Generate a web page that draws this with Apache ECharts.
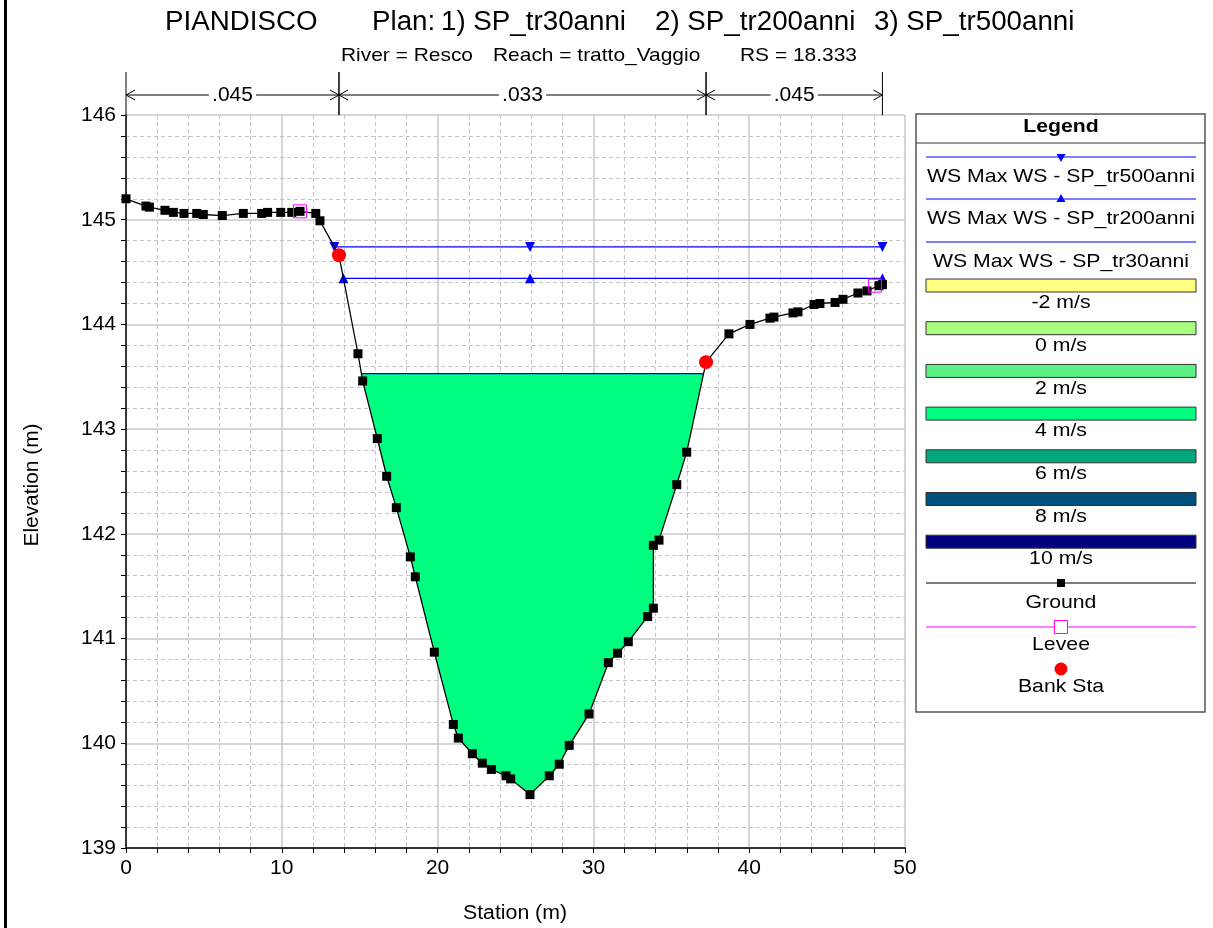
<!DOCTYPE html>
<html><head><meta charset="utf-8">
<script src="https://cdn.jsdelivr.net/npm/echarts@6/dist/echarts.min.js"></script>
<style>html,body{margin:0;padding:0;background:#fff}#c{width:1213px;height:928px}</style>
</head><body><div id="c"></div>
<script>
// ---------------- DATA ----------------
const groundStation = [
  0, 1.28, 1.50, 2.50, 3.04, 3.72, 4.54, 4.96, 6.18, 7.53,
  8.71, 9.09, 9.93, 10.64, 11.17, 12.18, 12.45, 13.67, 14.89, 15.19,
  16.13, 16.73, 17.35, 18.25, 18.57, 19.79, 21.01, 21.33, 22.23, 22.87,
  23.45, 24.39, 24.69, 25.93, 27.17, 27.81, 28.45, 29.72, 30.96, 31.55,
  32.24, 33.48, 33.85, 33.85, 34.21, 35.35, 35.99, 37.23, 38.70, 40.05,
  41.33, 41.59, 42.81, 43.13, 44.16, 44.54, 45.51, 46.02, 46.98, 47.56,
  48.33, 48.55
];
const groundElev = [
  145.20, 145.13, 145.12, 145.09, 145.07, 145.06, 145.06, 145.05, 145.04, 145.06,
  145.06, 145.07, 145.07, 145.07, 145.08, 145.06, 144.99, 144.66, 143.72, 143.46,
  142.91, 142.55, 142.25, 141.78, 141.59, 140.87, 140.18, 140.05, 139.90, 139.81,
  139.75, 139.69, 139.66, 139.51, 139.69, 139.80, 139.98, 140.28, 140.77, 140.86,
  140.97, 141.21, 141.29, 141.89, 141.94, 142.47, 142.78, 143.64, 143.91, 144.00,
  144.06, 144.07, 144.11, 144.12, 144.19, 144.20, 144.21, 144.24, 144.30, 144.32,
  144.37, 144.38
];
const bankStation = [13.67, 37.23];
const bankElev = [144.66, 143.64];
const leveeStation = [11.17, 48.07];
const leveeElev = [145.08, 144.37];
const wsProfiles = ['SP_tr500anni', 'SP_tr200anni', 'SP_tr30anni'];
const wsElev = [144.74, 144.44, 143.53];
const nBreaks = [0, 13.67, 37.23, 48.55];
const nValues = ['.045', '.033', '.045'];
const velLabels = ['-2 m/s', '0 m/s', '2 m/s', '4 m/s', '6 m/s', '8 m/s', '10 m/s'];
const xTicks = [0, 50, 10];
const yTicks = [139, 146, 1];
const titleParts = ['PIANDISCO', 'Plan:', '1) SP_tr30anni', '2) SP_tr200anni', '3) SP_tr500anni'];
const subtitleParts = ['River = Resco', 'Reach = tratto_Vaggio', 'RS = 18.333'];

// ---------------- STYLE ----------------
const FONT = '"Liberation Sans", Arial, sans-serif';
const velColors = ['#ffff80', '#aaff80', '#5af082', '#00ff80', '#00a87c', '#00507c', '#000080'];
const WS_COLOR = '#0000ff';

const mctx = document.createElement('canvas').getContext('2d');
function tw(text, font) { mctx.font = font; return mctx.measureText(text).width; }
function fitText(text, x, y, size, targetW, align, opts) {
  const font = (opts && opts.bold ? 'bold ' : '') + size + 'px ' + FONT;
  const s = targetW ? targetW / tw(text, font) : 1;
  const el = {
    type: 'text', x: x, y: y, scaleX: s, z: 100,
    style: { text: text, font: font, fill: '#000', textAlign: align || 'center', textVerticalAlign: 'middle' }
  };
  if (opts && opts.rotation) el.rotation = opts.rotation;
  return el;
}

// ---------------- GEOMETRY HELPERS ----------------
function thalweg() {
  let k = 0;
  for (let i = 1; i < groundElev.length; i++) if (groundElev[i] < groundElev[k]) k = i;
  return k;
}
function wsExtent(elev) {
  const n = groundStation.length, k = thalweg();
  let i = k; while (i > 0 && groundElev[i - 1] < elev) i--;
  let xl;
  if (i === 0) xl = groundStation[0];
  else {
    const xa = groundStation[i - 1], ya = groundElev[i - 1], xb = groundStation[i], yb = groundElev[i];
    xl = xa + (ya - elev) / (ya - yb) * (xb - xa);
  }
  let j = k; while (j < n - 1 && groundElev[j + 1] < elev) j++;
  let xr;
  if (j === n - 1) xr = groundStation[n - 1];
  else {
    const xa = groundStation[j], ya = groundElev[j], xb = groundStation[j + 1], yb = groundElev[j + 1];
    xr = xa + (elev - ya) / (yb - ya) * (xb - xa);
  }
  return { xl: xl, xr: xr, il: i, ir: j };
}

const groundData = groundStation.map((x, i) => [x, groundElev[i]]);
const wsSeries = wsProfiles.map((p, idx) => {
  const e = wsElev[idx], ext = wsExtent(e);
  const withMarks = idx < 2;
  const data = withMarks
    ? [[ext.xl, e], [groundStation[thalweg()], e], [ext.xr, e]]
    : [[ext.xl, e], [ext.xr, e]];
  return {
    type: 'line', name: 'WS Max WS - ' + p, data: data, z: 5,
    lineStyle: { color: WS_COLOR, width: 1.2 },
    itemStyle: { color: WS_COLOR, borderWidth: 0 },
    showSymbol: withMarks, symbol: 'triangle', symbolSize: 10,
    symbolRotate: idx === 0 ? 180 : 0
  };
});

// ---------------- CHART ----------------
const chart = echarts.init(document.getElementById('c'), null, { renderer: 'canvas' });
const G = { left: 126, top: 115, width: 779, height: 733 };

const axisCommon = {
  type: 'value',
  axisLine: { show: true, onZero: false, lineStyle: { color: '#000', width: 1.5 } },
  axisTick: { show: true, length: 5, lineStyle: { color: '#000', width: 1 } },
  minorTick: { show: true, splitNumber: 5, length: 5, lineStyle: { color: '#000', width: 1 } },
  splitLine: { show: true, lineStyle: { color: '#c8c8c8', width: 1.5 } },
  minorSplitLine: { show: true, lineStyle: { color: '#c4c4c4', width: 1, type: [4, 3] } },
  axisLabel: { color: '#000', fontSize: 21, fontFamily: FONT, margin: 10 }
};

// legend graphic
const LX0 = 926, LX1 = 1196, LCX = 1061;
const LFS = 19;
const legScale = 268 / tw('WS Max WS - SP_tr500anni', LFS + 'px ' + FONT);
function legText(t, y) {
  return { type: 'text', x: LCX, y: y, scaleX: legScale, z: 100,
    style: { text: t, font: LFS + 'px ' + FONT, fill: '#000', textAlign: 'center', textVerticalAlign: 'middle' } };
}
function hline(x0, x1, y, color, w) {
  return { type: 'line', z: 100, shape: { x1: x0, y1: y, x2: x1, y2: y }, style: { stroke: color, lineWidth: w || 1 } };
}
const legend = [];
legend.push({ type: 'rect', z: 99, shape: { x: 916, y: 114, width: 289, height: 598 }, style: { fill: '#fff', stroke: '#555', lineWidth: 1.5 } });
legend.push(hline(916, 1205, 143, '#333', 1));
legend.push({ type: 'text', x: LCX, y: 127, scaleX: legScale, z: 100,
  style: { text: 'Legend', font: 'bold ' + LFS + 'px ' + FONT, fill: '#000', textAlign: 'center', textVerticalAlign: 'middle' } });
const wsLineY = [157, 199, 242], wsTextY = [177, 219, 262];
wsProfiles.forEach((p, i) => {
  legend.push(hline(LX0, LX1, wsLineY[i], WS_COLOR, 1.2));
  if (i === 0) legend.push({ type: 'polygon', z: 101, shape: { points: [[LCX - 4.5, wsLineY[i] - 3], [LCX + 4.5, wsLineY[i] - 3], [LCX, wsLineY[i] + 5]] }, style: { fill: WS_COLOR } });
  if (i === 1) legend.push({ type: 'polygon', z: 101, shape: { points: [[LCX - 4.5, wsLineY[i] + 3], [LCX + 4.5, wsLineY[i] + 3], [LCX, wsLineY[i] - 5]] }, style: { fill: WS_COLOR } });
  legend.push(legText('WS Max WS - ' + p, wsTextY[i]));
});
velLabels.forEach((t, i) => {
  const top = 279 + i * 42.7;
  legend.push({ type: 'rect', z: 100, shape: { x: LX0, y: top, width: LX1 - LX0, height: 13 }, style: { fill: velColors[i], stroke: '#333', lineWidth: 1 } });
  legend.push(legText(t, top + 24));
});
legend.push(hline(LX0, LX1, 583, '#000', 1.2));
legend.push({ type: 'rect', z: 101, shape: { x: LCX - 4, y: 579, width: 8, height: 8 }, style: { fill: '#000' } });
legend.push(legText('Ground', 603));
legend.push(hline(LX0, LX1, 627, '#ff00ff', 1.2));
legend.push({ type: 'rect', z: 101, shape: { x: LCX - 6.5, y: 620.5, width: 13, height: 13 }, style: { fill: '#fff', stroke: '#ff00ff', lineWidth: 1 } });
legend.push(legText('Levee', 645));
legend.push({ type: 'circle', z: 101, shape: { cx: LCX, cy: 669, r: 6.5 }, style: { fill: '#ff0000' } });
legend.push(legText('Bank Sta', 687));

// titles
const titleX = [165, 372, 441, 655, 874];
const TFS = 27;
const titleScale = 185 / tw(titleParts[2], TFS + 'px ' + FONT);
const titles = titleParts.map((t, i) => {
  const e = fitText(t, titleX[i], 23, TFS, null, 'left'); e.scaleX = titleScale; return e;
});
const subX = [341, 493, 740];
const SFS = 19;
const subScale = 132 / tw(subtitleParts[0], SFS + 'px ' + FONT);
const subs = subtitleParts.map((t, i) => {
  const e = fitText(t, subX[i], 56, SFS, null, 'left'); e.scaleX = subScale; return e;
});

const graphic = [
  { type: 'rect', shape: { x: 4, y: 0, width: 3, height: 928 }, style: { fill: '#000' }, z: 100 },
  fitText('Elevation (m)', 32, 485, 20, 123, 'center', { rotation: Math.PI / 2 }),
  fitText('Station (m)', 515, 913, 20, 104, 'center')
].concat(titles, subs, legend);

const option = {
  animation: false,
  backgroundColor: '#fff',
  grid: G,
  xAxis: Object.assign({}, axisCommon, { min: xTicks[0], max: xTicks[1], interval: xTicks[2] }),
  yAxis: Object.assign({}, axisCommon, { min: yTicks[0], max: yTicks[1], interval: yTicks[2] }),
  graphic: graphic,
  series: [
    {
      type: 'custom', name: 'flow area', z: 2, silent: true,
      data: [[0, 0]],
      renderItem: function (params, api) {
        const e = wsElev[2], ext = wsExtent(e);
        const pts = [[ext.xl, e]];
        for (let i = ext.il; i <= ext.ir; i++) pts.push([groundStation[i], groundElev[i]]);
        pts.push([ext.xr, e]);
        return { type: 'polygon', shape: { points: pts.map(p => api.coord(p)) }, style: { fill: velColors[3] } };
      }
    },
    wsSeries[2], wsSeries[1], wsSeries[0],
    {
      type: 'line', name: 'Ground', data: groundData, z: 6,
      lineStyle: { color: '#000', width: 1.3 }, itemStyle: { color: '#000', borderWidth: 0 },
      symbol: 'rect', symbolSize: 9, showSymbol: true
    },
    {
      type: 'scatter', name: 'Levee', z: 7, data: leveeStation.map((x, i) => [x, leveeElev[i]]),
      symbol: 'rect', symbolSize: 13, itemStyle: { color: 'rgba(0,0,0,0)', borderColor: '#ff00ff', borderWidth: 1, opacity: 1 }
    },
    {
      type: 'scatter', name: 'Bank Sta', z: 8, data: bankStation.map((x, i) => [x, bankElev[i]]),
      symbol: 'circle', symbolSize: 14, itemStyle: { color: '#ff0000', borderWidth: 0, opacity: 1 }
    },
    {
      type: 'custom', name: 'n values', z: 9, silent: true, clip: false,
      data: nValues.map((v, i) => [nBreaks[i], 0]),
      renderItem: function (params, api) {
        const i = params.dataIndex;
        const x0 = api.coord([nBreaks[i], yTicks[1]])[0];
        const x1 = api.coord([nBreaks[i + 1], yTicks[1]])[0];
        const yTop = api.coord([0, yTicks[1]])[1];
        const ly = yTop - 20, a = 9, h = 5;
        const st = { stroke: '#000', lineWidth: 1, fill: null };
        return {
          type: 'group', children: [
            { type: 'line', shape: { x1: x0, y1: yTop - 43, x2: x0, y2: yTop }, style: st },
            { type: 'line', shape: { x1: x1, y1: yTop - 43, x2: x1, y2: yTop }, style: st },
            { type: 'line', shape: { x1: x0, y1: ly, x2: x1, y2: ly }, style: st },
            { type: 'polyline', shape: { points: [[x0 + a, ly - h], [x0, ly], [x0 + a, ly + h]] }, style: st },
            { type: 'polyline', shape: { points: [[x1 - a, ly - h], [x1, ly], [x1 - a, ly + h]] }, style: st },
            { type: 'text', x: (x0 + x1) / 2, y: ly, scaleX: 1.05,
              style: { text: nValues[i], font: '20px ' + FONT, fill: '#000', textAlign: 'center', textVerticalAlign: 'middle', backgroundColor: '#fff', padding: [0, 3] } }
          ]
        };
      }
    }
  ]
};
chart.setOption(option);
</script>
</body></html>
